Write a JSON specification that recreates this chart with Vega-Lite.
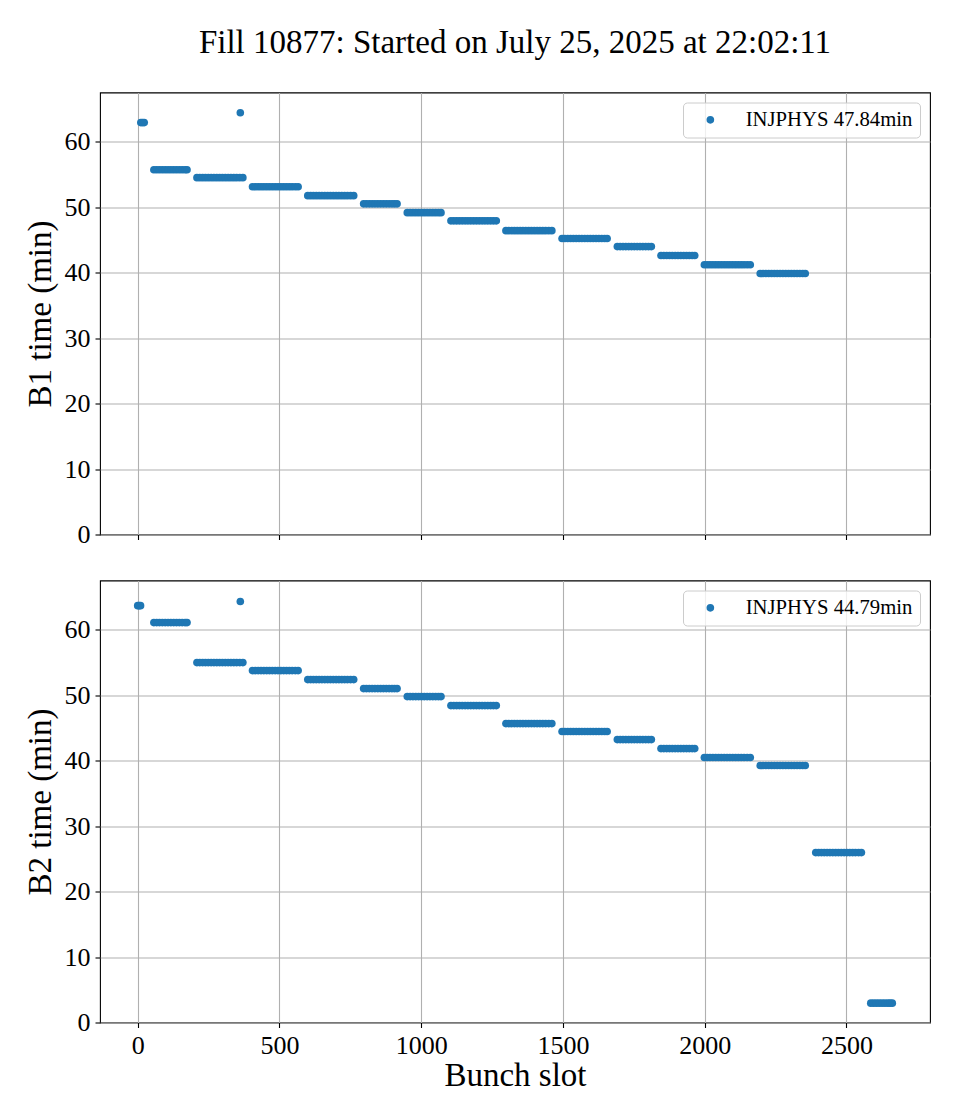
{
  "$schema": "https://vega.github.io/schema/vega-lite/v6.json",
  "padding": {"left": 23, "top": 25.5, "right": 5, "bottom": 5},
  "background": "white",
  "bounds": "flush",
  "spacing": 46,
  "datasets": {
    "b1": [
      {"x":11,"y":62.9},{"x":17,"y":62.9},{"x":23,"y":62.9},
      {"x":362,"y":64.4},
      {"x":57,"y":55.7},{"x":67,"y":55.7},{"x":77,"y":55.7},{"x":87,"y":55.7},{"x":97,"y":55.7},{"x":107,"y":55.7},{"x":117,"y":55.7},{"x":127,"y":55.7},{"x":137,"y":55.7},{"x":147,"y":55.7},{"x":157,"y":55.7},{"x":167,"y":55.7},{"x":174,"y":55.7},
      {"x":209,"y":54.5},{"x":219,"y":54.5},{"x":229,"y":54.5},{"x":239,"y":54.5},{"x":249,"y":54.5},{"x":259,"y":54.5},{"x":269,"y":54.5},{"x":279,"y":54.5},{"x":289,"y":54.5},{"x":299,"y":54.5},{"x":309,"y":54.5},{"x":319,"y":54.5},{"x":329,"y":54.5},{"x":339,"y":54.5},{"x":349,"y":54.5},{"x":360,"y":54.5},{"x":371,"y":54.5},
      {"x":405,"y":53.1},{"x":415,"y":53.1},{"x":425,"y":53.1},{"x":435,"y":53.1},{"x":445,"y":53.1},{"x":455,"y":53.1},{"x":465,"y":53.1},{"x":475,"y":53.1},{"x":485,"y":53.1},{"x":495,"y":53.1},{"x":505,"y":53.1},{"x":515,"y":53.1},{"x":525,"y":53.1},{"x":535,"y":53.1},{"x":545,"y":53.1},{"x":556,"y":53.1},{"x":566,"y":53.1},
      {"x":600,"y":51.75},{"x":610,"y":51.75},{"x":620,"y":51.75},{"x":630,"y":51.75},{"x":640,"y":51.75},{"x":650,"y":51.75},{"x":660,"y":51.75},{"x":670,"y":51.75},{"x":680,"y":51.75},{"x":690,"y":51.75},{"x":700,"y":51.75},{"x":710,"y":51.75},{"x":720,"y":51.75},{"x":730,"y":51.75},{"x":740,"y":51.75},{"x":751,"y":51.75},{"x":762,"y":51.75},
      {"x":797,"y":50.5},{"x":807,"y":50.5},{"x":817,"y":50.5},{"x":827,"y":50.5},{"x":837,"y":50.5},{"x":847,"y":50.5},{"x":857,"y":50.5},{"x":867,"y":50.5},{"x":877,"y":50.5},{"x":887,"y":50.5},{"x":897,"y":50.5},{"x":906,"y":50.5},{"x":915,"y":50.5},
      {"x":951,"y":49.15},{"x":961,"y":49.15},{"x":971,"y":49.15},{"x":981,"y":49.15},{"x":991,"y":49.15},{"x":1001,"y":49.15},{"x":1011,"y":49.15},{"x":1021,"y":49.15},{"x":1031,"y":49.15},{"x":1041,"y":49.15},{"x":1051,"y":49.15},{"x":1061,"y":49.15},{"x":1070,"y":49.15},
      {"x":1105,"y":47.9},{"x":1115,"y":47.9},{"x":1125,"y":47.9},{"x":1135,"y":47.9},{"x":1145,"y":47.9},{"x":1155,"y":47.9},{"x":1165,"y":47.9},{"x":1175,"y":47.9},{"x":1185,"y":47.9},{"x":1195,"y":47.9},{"x":1205,"y":47.9},{"x":1215,"y":47.9},{"x":1225,"y":47.9},{"x":1235,"y":47.9},{"x":1245,"y":47.9},{"x":1255,"y":47.9},{"x":1265,"y":47.9},
      {"x":1299,"y":46.4},{"x":1309,"y":46.4},{"x":1319,"y":46.4},{"x":1329,"y":46.4},{"x":1339,"y":46.4},{"x":1349,"y":46.4},{"x":1359,"y":46.4},{"x":1369,"y":46.4},{"x":1379,"y":46.4},{"x":1389,"y":46.4},{"x":1399,"y":46.4},{"x":1409,"y":46.4},{"x":1419,"y":46.4},{"x":1429,"y":46.4},{"x":1439,"y":46.4},{"x":1450,"y":46.4},{"x":1461,"y":46.4},
      {"x":1497,"y":45.2},{"x":1507,"y":45.2},{"x":1517,"y":45.2},{"x":1527,"y":45.2},{"x":1537,"y":45.2},{"x":1547,"y":45.2},{"x":1557,"y":45.2},{"x":1567,"y":45.2},{"x":1577,"y":45.2},{"x":1587,"y":45.2},{"x":1597,"y":45.2},{"x":1607,"y":45.2},{"x":1617,"y":45.2},{"x":1627,"y":45.2},{"x":1637,"y":45.2},{"x":1647,"y":45.2},{"x":1656,"y":45.2},
      {"x":1692,"y":43.97},{"x":1702,"y":43.97},{"x":1712,"y":43.97},{"x":1722,"y":43.97},{"x":1732,"y":43.97},{"x":1742,"y":43.97},{"x":1752,"y":43.97},{"x":1762,"y":43.97},{"x":1772,"y":43.97},{"x":1782,"y":43.97},{"x":1792,"y":43.97},{"x":1802,"y":43.97},{"x":1812,"y":43.97},
      {"x":1846,"y":42.6},{"x":1856,"y":42.6},{"x":1866,"y":42.6},{"x":1876,"y":42.6},{"x":1886,"y":42.6},{"x":1896,"y":42.6},{"x":1906,"y":42.6},{"x":1916,"y":42.6},{"x":1926,"y":42.6},{"x":1936,"y":42.6},{"x":1946,"y":42.6},{"x":1956,"y":42.6},{"x":1965,"y":42.6},
      {"x":1999,"y":41.2},{"x":2009,"y":41.2},{"x":2019,"y":41.2},{"x":2029,"y":41.2},{"x":2039,"y":41.2},{"x":2049,"y":41.2},{"x":2059,"y":41.2},{"x":2069,"y":41.2},{"x":2079,"y":41.2},{"x":2089,"y":41.2},{"x":2099,"y":41.2},{"x":2109,"y":41.2},{"x":2119,"y":41.2},{"x":2129,"y":41.2},{"x":2139,"y":41.2},{"x":2150,"y":41.2},{"x":2161,"y":41.2},
      {"x":2196,"y":39.85},{"x":2206,"y":39.85},{"x":2216,"y":39.85},{"x":2226,"y":39.85},{"x":2236,"y":39.85},{"x":2246,"y":39.85},{"x":2256,"y":39.85},{"x":2266,"y":39.85},{"x":2276,"y":39.85},{"x":2286,"y":39.85},{"x":2296,"y":39.85},{"x":2306,"y":39.85},{"x":2316,"y":39.85},{"x":2326,"y":39.85},{"x":2336,"y":39.85},{"x":2346,"y":39.85},{"x":2355,"y":39.85}
    ],
    "b2": [
      {"x":0,"y":63.66},{"x":5,"y":63.66},{"x":10,"y":63.66},
      {"x":362,"y":64.3},
      {"x":57,"y":61.07},{"x":67,"y":61.07},{"x":77,"y":61.07},{"x":87,"y":61.07},{"x":97,"y":61.07},{"x":107,"y":61.07},{"x":117,"y":61.07},{"x":127,"y":61.07},{"x":137,"y":61.07},{"x":147,"y":61.07},{"x":157,"y":61.07},{"x":167,"y":61.07},{"x":174,"y":61.07},
      {"x":209,"y":54.96},{"x":219,"y":54.96},{"x":229,"y":54.96},{"x":239,"y":54.96},{"x":249,"y":54.96},{"x":259,"y":54.96},{"x":269,"y":54.96},{"x":279,"y":54.96},{"x":289,"y":54.96},{"x":299,"y":54.96},{"x":309,"y":54.96},{"x":319,"y":54.96},{"x":329,"y":54.96},{"x":339,"y":54.96},{"x":349,"y":54.96},{"x":360,"y":54.96},{"x":371,"y":54.96},
      {"x":405,"y":53.74},{"x":415,"y":53.74},{"x":425,"y":53.74},{"x":435,"y":53.74},{"x":445,"y":53.74},{"x":455,"y":53.74},{"x":465,"y":53.74},{"x":475,"y":53.74},{"x":485,"y":53.74},{"x":495,"y":53.74},{"x":505,"y":53.74},{"x":515,"y":53.74},{"x":525,"y":53.74},{"x":535,"y":53.74},{"x":545,"y":53.74},{"x":556,"y":53.74},{"x":566,"y":53.74},
      {"x":600,"y":52.37},{"x":610,"y":52.37},{"x":620,"y":52.37},{"x":630,"y":52.37},{"x":640,"y":52.37},{"x":650,"y":52.37},{"x":660,"y":52.37},{"x":670,"y":52.37},{"x":680,"y":52.37},{"x":690,"y":52.37},{"x":700,"y":52.37},{"x":710,"y":52.37},{"x":720,"y":52.37},{"x":730,"y":52.37},{"x":740,"y":52.37},{"x":751,"y":52.37},{"x":762,"y":52.37},
      {"x":797,"y":50.99},{"x":807,"y":50.99},{"x":817,"y":50.99},{"x":827,"y":50.99},{"x":837,"y":50.99},{"x":847,"y":50.99},{"x":857,"y":50.99},{"x":867,"y":50.99},{"x":877,"y":50.99},{"x":887,"y":50.99},{"x":897,"y":50.99},{"x":906,"y":50.99},{"x":915,"y":50.99},
      {"x":951,"y":49.77},{"x":961,"y":49.77},{"x":971,"y":49.77},{"x":981,"y":49.77},{"x":991,"y":49.77},{"x":1001,"y":49.77},{"x":1011,"y":49.77},{"x":1021,"y":49.77},{"x":1031,"y":49.77},{"x":1041,"y":49.77},{"x":1051,"y":49.77},{"x":1061,"y":49.77},{"x":1070,"y":49.77},
      {"x":1105,"y":48.4},{"x":1115,"y":48.4},{"x":1125,"y":48.4},{"x":1135,"y":48.4},{"x":1145,"y":48.4},{"x":1155,"y":48.4},{"x":1165,"y":48.4},{"x":1175,"y":48.4},{"x":1185,"y":48.4},{"x":1195,"y":48.4},{"x":1205,"y":48.4},{"x":1215,"y":48.4},{"x":1225,"y":48.4},{"x":1235,"y":48.4},{"x":1245,"y":48.4},{"x":1255,"y":48.4},{"x":1265,"y":48.4},
      {"x":1299,"y":45.65},{"x":1309,"y":45.65},{"x":1319,"y":45.65},{"x":1329,"y":45.65},{"x":1339,"y":45.65},{"x":1349,"y":45.65},{"x":1359,"y":45.65},{"x":1369,"y":45.65},{"x":1379,"y":45.65},{"x":1389,"y":45.65},{"x":1399,"y":45.65},{"x":1409,"y":45.65},{"x":1419,"y":45.65},{"x":1429,"y":45.65},{"x":1439,"y":45.65},{"x":1450,"y":45.65},{"x":1461,"y":45.65},
      {"x":1497,"y":44.43},{"x":1507,"y":44.43},{"x":1517,"y":44.43},{"x":1527,"y":44.43},{"x":1537,"y":44.43},{"x":1547,"y":44.43},{"x":1557,"y":44.43},{"x":1567,"y":44.43},{"x":1577,"y":44.43},{"x":1587,"y":44.43},{"x":1597,"y":44.43},{"x":1607,"y":44.43},{"x":1617,"y":44.43},{"x":1627,"y":44.43},{"x":1637,"y":44.43},{"x":1647,"y":44.43},{"x":1656,"y":44.43},
      {"x":1692,"y":43.2},{"x":1702,"y":43.2},{"x":1712,"y":43.2},{"x":1722,"y":43.2},{"x":1732,"y":43.2},{"x":1742,"y":43.2},{"x":1752,"y":43.2},{"x":1762,"y":43.2},{"x":1772,"y":43.2},{"x":1782,"y":43.2},{"x":1792,"y":43.2},{"x":1802,"y":43.2},{"x":1812,"y":43.2},
      {"x":1846,"y":41.83},{"x":1856,"y":41.83},{"x":1866,"y":41.83},{"x":1876,"y":41.83},{"x":1886,"y":41.83},{"x":1896,"y":41.83},{"x":1906,"y":41.83},{"x":1916,"y":41.83},{"x":1926,"y":41.83},{"x":1936,"y":41.83},{"x":1946,"y":41.83},{"x":1956,"y":41.83},{"x":1965,"y":41.83},
      {"x":1999,"y":40.46},{"x":2009,"y":40.46},{"x":2019,"y":40.46},{"x":2029,"y":40.46},{"x":2039,"y":40.46},{"x":2049,"y":40.46},{"x":2059,"y":40.46},{"x":2069,"y":40.46},{"x":2079,"y":40.46},{"x":2089,"y":40.46},{"x":2099,"y":40.46},{"x":2109,"y":40.46},{"x":2119,"y":40.46},{"x":2129,"y":40.46},{"x":2139,"y":40.46},{"x":2150,"y":40.46},{"x":2161,"y":40.46},
      {"x":2196,"y":39.24},{"x":2206,"y":39.24},{"x":2216,"y":39.24},{"x":2226,"y":39.24},{"x":2236,"y":39.24},{"x":2246,"y":39.24},{"x":2256,"y":39.24},{"x":2266,"y":39.24},{"x":2276,"y":39.24},{"x":2286,"y":39.24},{"x":2296,"y":39.24},{"x":2306,"y":39.24},{"x":2316,"y":39.24},{"x":2326,"y":39.24},{"x":2336,"y":39.24},{"x":2346,"y":39.24},{"x":2355,"y":39.24},
      {"x":2392,"y":25.95},{"x":2402,"y":25.95},{"x":2412,"y":25.95},{"x":2422,"y":25.95},{"x":2432,"y":25.95},{"x":2442,"y":25.95},{"x":2452,"y":25.95},{"x":2462,"y":25.95},{"x":2472,"y":25.95},{"x":2482,"y":25.95},{"x":2492,"y":25.95},{"x":2502,"y":25.95},{"x":2512,"y":25.95},{"x":2522,"y":25.95},{"x":2532,"y":25.95},{"x":2543,"y":25.95},{"x":2553,"y":25.95},
      {"x":2586,"y":2.95},{"x":2596,"y":2.95},{"x":2606,"y":2.95},{"x":2616,"y":2.95},{"x":2626,"y":2.95},{"x":2636,"y":2.95},{"x":2646,"y":2.95},{"x":2654,"y":2.95},{"x":2662,"y":2.95}
    ]
  },
  "config": {
    "font": "Liberation Serif",
    "view": {"stroke": "black", "strokeWidth": 1.1},
    "axis": {
      "labelFont": "Liberation Serif", "labelFontSize": 26, "labelColor": "black",
      "titleFont": "Liberation Serif", "titleFontSize": 33, "titleFontWeight": "normal", "titleColor": "black",
      "tickColor": "black", "tickSize": 5, "tickWidth": 1.1, "domain": false,
      "gridColor": "#b0b0b0", "gridWidth": 1.1, "gridOpacity": 1, "labelPadding": 5
    },
    "legend": {
      "labelFont": "Liberation Serif", "labelFontSize": 20.7, "labelColor": "black", "labelLimit": 400,
      "padding": 7, "symbolOffset": 10, "labelOffset": 25,
      "fillColor": "rgba(255,255,255,0.8)", "strokeColor": "#cccccc", "strokeWidth": 1, "cornerRadius": 4,
      "symbolSize": 58, "symbolType": "circle", "symbolStrokeWidth": 0, "symbolOpacity": 1, "offset": 10
    }
  },
  "vconcat": [
    {
      "width": 830, "height": 442,
      "title": {"text": "Fill 10877: Started on July 25, 2025 at 22:02:11", "fontSize": 33, "font": "Liberation Serif", "fontWeight": "normal", "color": "black", "anchor": "middle", "frame": "group", "baseline": "alphabetic", "offset": 6.5},
      "data": {"name": "b1"},
      "mark": {"type": "circle", "size": 58, "opacity": 1},
      "encoding": {
        "x": {"field": "x", "type": "quantitative", "scale": {"domain": [-133, 2795], "nice": false, "zero": false}, "axis": {"values": [0, 500, 1000, 1500, 2000, 2500], "labels": false, "title": null}},
        "y": {"field": "y", "type": "quantitative", "scale": {"domain": [0, 67.5], "nice": false}, "axis": {"values": [0, 10, 20, 30, 40, 50, 60], "format": "d", "title": "B1 time (min)", "titlePadding": 7}},
        "color": {"datum": "INJPHYS 47.84min", "type": "nominal", "scale": {"range": ["#1f77b4"]}, "legend": {"title": null, "orient": "top-right"}}
      }
    },
    {
      "width": 830, "height": 442,
      "data": {"name": "b2"},
      "mark": {"type": "circle", "size": 58, "opacity": 1},
      "encoding": {
        "x": {"field": "x", "type": "quantitative", "scale": {"domain": [-133, 2795], "nice": false, "zero": false}, "axis": {"values": [0, 500, 1000, 1500, 2000, 2500], "format": "d", "title": "Bunch slot", "titlePadding": 1}},
        "y": {"field": "y", "type": "quantitative", "scale": {"domain": [0, 67.5], "nice": false}, "axis": {"values": [0, 10, 20, 30, 40, 50, 60], "format": "d", "title": "B2 time (min)", "titlePadding": 7}},
        "color": {"datum": "INJPHYS 44.79min", "type": "nominal", "scale": {"range": ["#1f77b4"]}, "legend": {"title": null, "orient": "top-right"}}
      }
    }
  ],
  "resolve": {"scale": {"x": "independent", "y": "independent", "color": "independent"}, "legend": {"color": "independent"}}
}
